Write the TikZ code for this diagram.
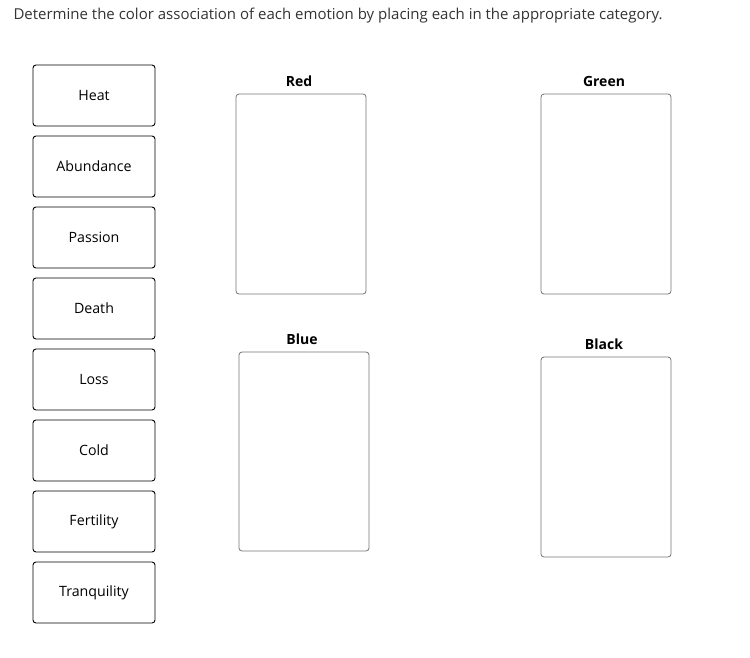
\documentclass[tikz,border=0pt]{standalone}
\usepackage{fontspec}
\setmainfont{Open Sans}
\usetikzlibrary{positioning}

\begin{document}
\begin{tikzpicture}[x=1pt,y=-1pt,
    card/.style={draw=black,rounded corners=3pt,line width=0.9pt,minimum width=122pt,minimum height=61pt,inner sep=0pt,font=\fontsize{14.2}{16}\selectfont},
    bin/.style={draw=black!55,rounded corners=3pt,line width=0.8pt,minimum width=130pt,minimum height=200pt,inner sep=0pt},
    binlabel/.style={font=\fontsize{14}{16}\selectfont\bfseries}]
  \useasboundingbox (0,0) rectangle (750,657);
  \node[anchor=west,font=\fontsize{15}{17}\selectfont,text=black!80] (title) at (10,16) {Determine the color association of each emotion by placing each in the appropriate category.};
  % items on the left
  \node[card] (heat) at (94,95.5) {Heat};
  \node[card] (abundance) at (94,166.5) {Abundance};
  \node[card] (passion) at (94,237.5) {Passion};
  \node[card] (death) at (94,308.5) {Death};
  \node[card] (loss) at (94,379.5) {Loss};
  \node[card] (cold) at (94,450.5) {Cold};
  \node[card] (fertility) at (94,521.5) {Fertility};
  \node[card] (tranquility) at (94,592.5) {Tranquility};
  % categories
  \node[bin] (red) at (301,194) {};
  \node[binlabel] (redlab) at (299,81) {Red};
  \node[bin] (green) at (606,194) {};
  \node[binlabel] (greenlab) at (604,81) {Green};
  \node[bin,minimum height=199pt] (blue) at (304,451.5) {};
  \node[binlabel] (bluelab) at (302,339) {Blue};
  \node[bin] (black) at (606,457) {};
  \node[binlabel] (blacklab) at (604,344) {Black};
\end{tikzpicture}
\end{document}
